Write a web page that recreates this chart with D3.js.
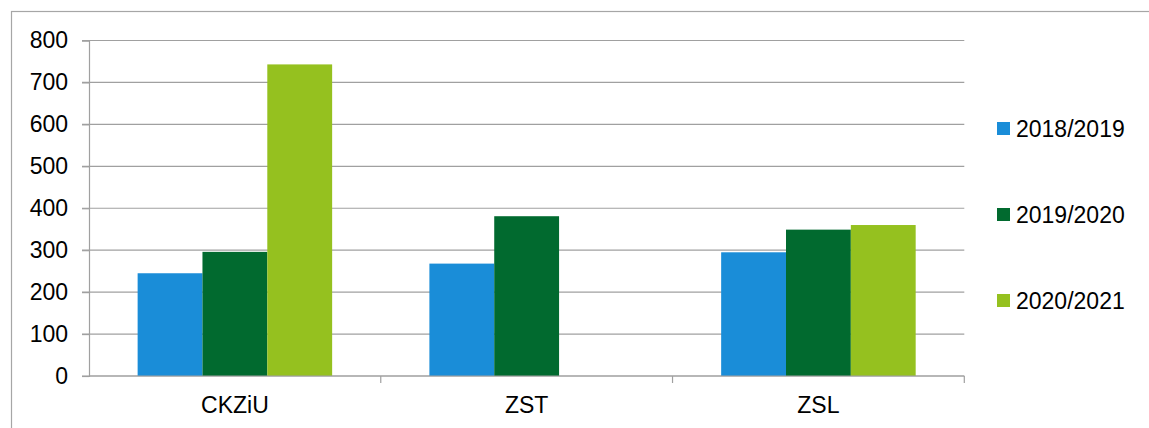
<!DOCTYPE html>
<html>
<head>
<meta charset="utf-8">
<script src="https://cdn.jsdelivr.net/npm/d3@7"></script>
<style>
  body { margin: 0; background: #fff; }
  text { font-family: "Liberation Sans", Arial, sans-serif; }
</style>
</head>
<body>
<div id="chart"></div>
<script>
// dane z wykresu
const categories = ["CKZiU", "ZST", "ZSL"];
const seriesNames = ["2018/2019", "2019/2020", "2020/2021"];
const values2018 = [245, 268, 295];
const values2019 = [296, 381, 349];
const values2020 = [743, null, 360];
const yTicks = [0, 100, 200, 300, 400, 500, 600, 700, 800];
const colors = ["#1a8dd8", "#016a2f", "#95c11f"];

const allValues = [values2018, values2019, values2020];
const rows = categories.map((c, i) => ({
    cat: c,
    vals: seriesNames.map((s, j) => ({key: s, value: allValues[j][i]}))
}));

const width = 1149, height = 428;
const margin = {top: 40.5, right: 185, bottom: 52, left: 89};

const svg = d3.create("svg")
    .attr("width", width)
    .attr("height", height);

// ramka
svg.append("rect")
    .attr("x", 11.5).attr("y", 11.5)
    .attr("width", width + 10).attr("height", height + 10)
    .attr("fill", "none")
    .attr("stroke", "#a6a6a6")
    .attr("stroke-width", 1.2);

const x0 = d3.scaleBand()
    .domain(categories)
    .range([margin.left, 964.3])
    .padding(0);

const bw = x0.bandwidth();
const x1 = d3.scaleBand()
    .domain(seriesNames)
    .range([bw * 0.75 / 4.5, bw - bw * 0.75 / 4.5])
    .padding(0);

const y = d3.scaleLinear()
    .domain([0, 800])
    .range([376, margin.top]);

// siatka
svg.append("g")
    .selectAll("line")
    .data(yTicks)
    .join("line")
    .attr("x1", margin.left - 7)
    .attr("x2", x0.range()[1])
    .attr("y1", d => y(d))
    .attr("y2", d => y(d))
    .attr("stroke", "#a0a0a0")
    .attr("stroke-width", 1.2);

// słupki
svg.append("g")
    .selectAll("g")
    .data(rows)
    .join("g")
    .attr("transform", d => `translate(${x0(d.cat)},0)`)
    .selectAll("rect")
    .data(d => d.vals.filter(v => v.value != null))
    .join("rect")
    .attr("x", d => x1(d.key))
    .attr("y", d => y(d.value))
    .attr("width", x1.bandwidth())
    .attr("height", d => y(0) - y(d.value))
    .attr("fill", (d) => colors[seriesNames.indexOf(d.key)]);

// oś Y
const yAxis = g => g.attr("transform", `translate(${margin.left},0)`)
    .call(d3.axisLeft(y).tickValues(yTicks).tickSize(7).tickPadding(14))
    .call(g => g.selectAll("line").attr("stroke", "#a0a0a0").attr("stroke-width", 1.2))
    .call(g => g.select(".domain").attr("stroke", "#a0a0a0").attr("stroke-width", 1.2))
    .call(g => g.selectAll("text").attr("font-size", 23).attr("fill", "#000")
        .attr("font-family", "'Liberation Sans', Arial, sans-serif"));
svg.append("g").call(yAxis);

// oś X
const xAxis = g => g.attr("transform", `translate(0,${y(0)})`)
    .call(d3.axisBottom(x0).tickSize(0).tickPadding(0))
    .call(g => g.select(".domain").remove())
    .call(g => g.selectAll("text").attr("font-size", 23).attr("fill", "#000")
        .attr("dy", 0).attr("y", 37)
        .attr("font-family", "'Liberation Sans', Arial, sans-serif"));
svg.append("g").call(xAxis);

svg.append("line")
    .attr("x1", margin.left).attr("x2", x0.range()[1])
    .attr("y1", y(0)).attr("y2", y(0))
    .attr("stroke", "#a0a0a0").attr("stroke-width", 1.2);

// znaczniki między kategoriami
svg.append("g")
    .selectAll("line")
    .data(categories.map(c => x0(c) + bw))
    .join("line")
    .attr("x1", d => d).attr("x2", d => d)
    .attr("y1", y(0)).attr("y2", y(0) + 7)
    .attr("stroke", "#a0a0a0").attr("stroke-width", 1.2);

// legenda
const legend = svg.append("g")
    .selectAll("g")
    .data(seriesNames)
    .join("g")
    .attr("transform", (d, i) => `translate(997,${128.5 + i * 86})`);

legend.append("rect")
    .attr("x", 0).attr("y", -6.5)
    .attr("width", 13).attr("height", 13)
    .attr("fill", (d, i) => colors[i]);

legend.append("text")
    .attr("x", 19).attr("y", 8)
    .attr("font-size", 23)
    .attr("fill", "#000")
    .text(d => d);

d3.select("#chart").node().appendChild(svg.node());
</script>
</body>
</html>
